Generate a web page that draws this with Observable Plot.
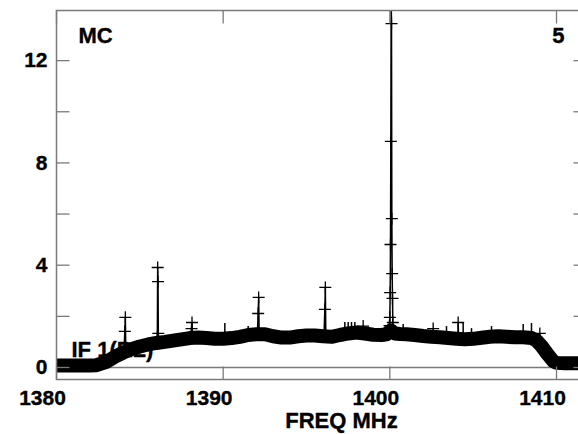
<!DOCTYPE html>
<html>
<head>
<meta charset="utf-8">
<script src="https://cdn.jsdelivr.net/npm/d3@7"></script>
<script src="https://cdn.jsdelivr.net/npm/@observablehq/plot@0.6"></script>
<style>
  html, body { margin: 0; padding: 0; background: #fff; overflow: hidden; }
  #chart { width: 578px; height: 434px; }
</style>
</head>
<body>
<div id="chart"></div>
<script>
// ---- data ----
const baseFreq = [1380.0, 1381.0, 1382.0, 1382.4, 1383.0, 1383.5, 1384.0, 1384.5, 1385.0, 1385.5,
  1386.0, 1386.5, 1387.0, 1387.5, 1388.0, 1388.5, 1389.0, 1389.5, 1390.0, 1390.5,
  1391.0, 1391.5, 1392.0, 1392.5, 1393.0, 1393.5, 1394.0, 1394.5, 1395.0, 1395.5,
  1396.0, 1396.5, 1397.0, 1397.5, 1398.0, 1398.5, 1399.0, 1399.5, 1399.8, 1400.05,
  1400.3, 1400.6, 1401.0, 1401.5, 1402.0, 1402.5, 1403.0, 1403.5, 1404.0, 1404.5,
  1405.0, 1405.5, 1406.0, 1406.5, 1407.0, 1407.5, 1408.0, 1408.5, 1408.8, 1409.1,
  1409.5, 1409.8, 1410.0, 1410.5, 1411.0, 1412.0];
const baseAmp = [0.08, 0.08, 0.08, 0.09, 0.22, 0.42, 0.58, 0.72, 0.82, 0.9,
  0.96, 1.0, 1.05, 1.1, 1.15, 1.17, 1.15, 1.12, 1.12, 1.15,
  1.2, 1.27, 1.3, 1.3, 1.22, 1.17, 1.17, 1.22, 1.25, 1.25,
  1.22, 1.2, 1.27, 1.33, 1.37, 1.33, 1.28, 1.27, 1.3, 1.45,
  1.33, 1.31, 1.3, 1.27, 1.23, 1.2, 1.18, 1.15, 1.12, 1.1,
  1.12, 1.16, 1.2, 1.22, 1.2, 1.18, 1.18, 1.15, 1.05, 0.84,
  0.49, 0.25, 0.18, 0.17, 0.17, 0.17];

const spikeGroup = ["A","A","A","A",
  "B","B","B","B","B","B",
  "C","C","C","C",
  "D","D","D","D",
  "E","E","E","E",
  "F","F","F","F","F","F","F","F","F","F","F","F","F",
  "G","G","G",
  "H","H","H",
  "I","I","I",
  "J","J","J"];
const spikeFreq = [1384.05, 1384.1, 1384.13, 1384.16,
  1386.02, 1386.05, 1386.07, 1386.09, 1386.11, 1386.14,
  1388.05, 1388.1, 1388.13, 1388.16,
  1392.05, 1392.1, 1392.13, 1392.16,
  1396.05, 1396.1, 1396.13, 1396.16,
  1399.95, 1399.98, 1400.0, 1400.02, 1400.04, 1400.06, 1400.08, 1400.1, 1400.12, 1400.14, 1400.16, 1400.18, 1400.21,
  1402.57, 1402.6, 1402.63,
  1404.07, 1404.1, 1404.13,
  1408.97, 1409.0, 1409.03,
  1398.37, 1398.4, 1398.43];
const spikeAmp = [0.6, 1.41, 1.96, 0.62,
  0.96, 1.17, 3.91, 3.36, 1.33, 0.98,
  1.15, 1.52, 1.76, 1.16,
  1.3, 2.11, 2.74, 1.3,
  1.22, 2.27, 3.13, 1.22,
  1.35, 1.64, 1.96, 2.93, 4.81, 8.84, 14.4, 13.45, 5.82, 3.67, 2.7, 1.76, 1.4,
  1.2, 1.52, 1.2,
  1.12, 1.76, 1.12,
  1.0, 1.33, 0.95,
  1.33, 1.62, 1.33];

// small noise tips poking above the band
const noiseFreq = [1390.1, 1391.5, 1397.3, 1397.5, 1397.7, 1397.9, 1400.8, 1403.4, 1404.4, 1404.9, 1406.1, 1408.0, 1408.5];
const noiseBase = [1.12, 1.27, 1.3, 1.32, 1.34, 1.36, 1.31, 1.17, 1.1, 1.11, 1.2, 1.18, 1.15];
const noiseTip = [1.72, 1.6, 1.76, 1.76, 1.76, 1.76, 1.68, 1.6, 1.72, 1.52, 1.6, 1.68, 1.72];

const xTicks = [1380, 1390, 1400, 1410];
const yTicks = [0, 2, 4, 6, 8, 10, 12];
const yLabels = [0, 4, 8, 12];
const xTitle = "FREQ MHz";
const sourceLabel = "MC";
const panelLabel = "5";
const ifLabel = "IF 1(RL)";

// ---- tables ----
const baseline = baseFreq.map((f, i) => ({freq: f, amp: baseAmp[i]}));
const spikes = spikeFreq.map((f, i) => ({freq: f, amp: spikeAmp[i], g: spikeGroup[i]}));
const noise = noiseFreq.map((f, i) => ({freq: f, lo: noiseBase[i], hi: noiseTip[i]}));

// ---- custom glyphs ----
const ARM = 6, TICK = 13;
const plusSym = {draw(c) { c.moveTo(-ARM, 0); c.lineTo(ARM, 0); c.moveTo(0, -ARM); c.lineTo(0, ARM); }};
const tickRight = {draw(c) { c.moveTo(0, 0); c.lineTo(TICK, 0); }};
const tickLeft = {draw(c) { c.moveTo(0, 0); c.lineTo(-TICK, 0); }};
const tickUp = {draw(c) { c.moveTo(0, 0); c.lineTo(0, -TICK); }};
const tickDown = {draw(c) { c.moveTo(0, 0); c.lineTo(0, TICK); }};

const GRAY = "#7a7a7a";
const FONT = "'Liberation Sans', Arial, Helvetica, sans-serif";
const txt = {fontWeight: "bold", fill: "black", stroke: "black", strokeWidth: 0.35, lineAnchor: "middle"};

const chart = Plot.plot({
  width: 578,
  height: 434,
  marginLeft: 56,
  marginRight: -8,
  marginTop: 10,
  marginBottom: 55,
  style: {fontFamily: FONT, fontWeight: "bold", background: "white", color: "black"},
  x: {domain: [1380, 1411.8], axis: null},
  y: {domain: [-0.47, 13.96], axis: null},
  marks: [
    Plot.ruleY([0], {stroke: GRAY, strokeWidth: 1.5}),
    Plot.text([ifLabel], {...txt, frameAnchor: "bottom-left", dx: 15, dy: -30, textAnchor: "start", fontSize: 22}),
    Plot.line(baseline, {x: "freq", y: "amp", stroke: "black", strokeWidth: 14, strokeLinecap: "butt", clip: true}),
    Plot.ruleX(noise, {x: "freq", y1: "lo", y2: "hi", stroke: "black", strokeWidth: 1.5, clip: true}),
    Plot.line(spikes, {x: "freq", y: "amp", z: "g", stroke: "black", strokeWidth: 1.5, clip: true}),
    Plot.dot(spikes, {x: "freq", y: "amp", symbol: plusSym, fill: "none", stroke: "black", strokeWidth: 1.3, clip: true}),
    // ticks (inward) on all sides
    Plot.dot(yTicks, {y: d => d, frameAnchor: "left", symbol: tickRight, fill: "none", stroke: GRAY, strokeWidth: 1.3}),
    Plot.dot(yTicks, {y: d => d, frameAnchor: "right", symbol: tickLeft, fill: "none", stroke: GRAY, strokeWidth: 1.3}),
    Plot.dot(xTicks, {x: d => d, frameAnchor: "bottom", symbol: tickUp, fill: "none", stroke: GRAY, strokeWidth: 1.3}),
    Plot.dot(xTicks, {x: d => d, frameAnchor: "top", symbol: tickDown, fill: "none", stroke: GRAY, strokeWidth: 1.3}),
    Plot.frame({stroke: GRAY, strokeWidth: 1.5}),
    // tick labels
    Plot.text(xTicks, {...txt, x: d => d, text: d => String(d), frameAnchor: "bottom", dx: -14, dy: 19, fontSize: 21}),
    Plot.text(yLabels, {...txt, y: d => d, text: d => String(d), frameAnchor: "left", dx: -9, textAnchor: "end", fontSize: 21}),
    Plot.text([xTitle], {...txt, frameAnchor: "bottom", dx: 20, dy: 41, fontSize: 22}),
    Plot.text([sourceLabel], {...txt, frameAnchor: "top-left", dx: 22, dy: 25, textAnchor: "start", fontSize: 22}),
    Plot.text([panelLabel], {...txt, frameAnchor: "top-right", dx: -22, dy: 25, textAnchor: "end", fontSize: 22})
  ]
});
document.getElementById("chart").appendChild(chart);
</script>
</body>
</html>
